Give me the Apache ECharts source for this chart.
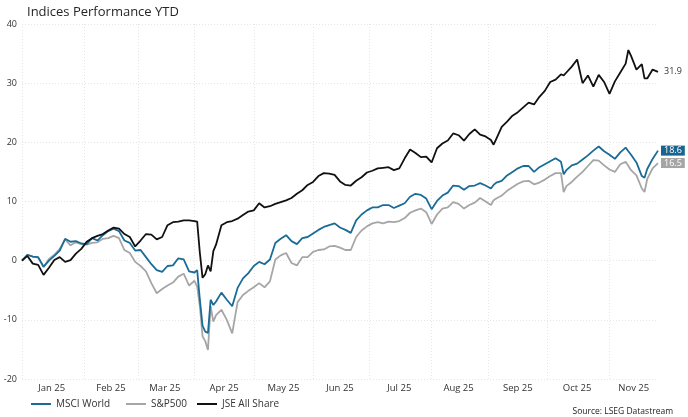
<!DOCTYPE html>
<html>
<head>
<meta charset="utf-8">
<script src="https://cdn.jsdelivr.net/npm/echarts@6/dist/echarts.min.js"></script>
<style>
  html, body { margin: 0; padding: 0; background: #fff; }
  #chart { width: 688px; height: 417px; }
</style>
</head>
<body>
<div id="chart"></div>
<script>
(function () {
  'use strict';

  // trading day number (weekdays counted from 1 Jan 2025) of each reading
  var dayNo = [
    0, 2, 4, 6, 8, 10, 12, 14, 16, 18, 20, 22, 24, 26, 28, 30, 32, 34, 36, 38,
    40, 42, 44, 46, 48, 50, 52, 54, 56, 58, 60, 62, 64, 65, 66, 67, 68, 69, 70, 71,
    72, 74, 76, 78, 80, 82, 84, 86, 88, 90, 92, 94, 96, 98, 100, 102, 104, 106, 108, 110,
    112, 114, 116, 118, 120, 122, 124, 126, 128, 130, 132, 134, 136, 138, 140, 142, 144, 146, 148, 150,
    152, 154, 156, 158, 160, 162, 164, 166, 168, 170, 172, 174, 175, 176, 178, 180, 182, 184, 186, 188,
    190, 192, 194, 196, 198, 200, 201, 202, 204, 206, 208, 210, 212, 214, 216, 218, 220, 222, 224, 225,
    226, 228, 230, 231, 232, 234, 236
  ];

  var msciWorld = [
    0, 1.0, 0.7, 0.6, -1.0, 0.0, 0.8, 1.7, 3.7, 3.2, 3.3, 2.9, 2.8, 3.8, 3.4, 4.3, 5.0, 5.4, 5.0, 3.4,
    3.0, 1.7, 1.8, 0.6, -0.6, -1.6, -1.9, -0.9, -0.8, 0.4, 0.2, -1.8, -2.0, -1.6, -6.6, -11.0, -12.0, -12.2, -6.6, -7.5,
    -6.9, -5.4, -6.6, -7.7, -4.6, -3.0, -2.1, -0.9, -0.2, -0.6, 0.2, 3.0, 3.7, 4.3, 3.3, 2.8, 3.8, 4.0, 4.6, 5.2,
    5.7, 6.0, 6.3, 5.6, 5.2, 4.7, 6.8, 7.8, 8.5, 9.0, 9.0, 9.4, 9.4, 8.9, 9.3, 9.7, 10.8, 11.3, 11.1, 10.5,
    8.7, 10.1, 11.0, 11.5, 12.7, 12.6, 12.0, 12.6, 12.7, 13.1, 12.7, 12.2, 12.8, 13.2, 13.5, 14.4, 15.0, 15.6, 16.0, 16.0,
    15.0, 15.8, 16.3, 16.8, 17.3, 16.7, 14.6, 15.3, 16.1, 16.4, 17.1, 17.8, 18.6, 19.3, 18.5, 17.9, 17.2, 18.3, 19.1, 18.5,
    17.9, 16.6, 14.3, 14.0, 15.5, 17.2, 18.6
  ];

  var sp500 = [
    0, 1.0, 0.7, 0.5, -1.1, 0.3, 1.0, 2.0, 3.6, 2.6, 3.1, 2.8, 2.7, 3.0, 3.1, 3.7, 3.8, 4.2, 3.8, 1.8,
    1.3, -0.2, -0.9, -1.8, -3.8, -5.5, -4.8, -4.2, -3.7, -2.7, -2.2, -4.2, -3.4, -4.4, -7.7, -12.8, -13.6, -15.1, -7.7, -10.3,
    -9.2, -8.3, -10.0, -12.3, -7.0, -5.8, -5.1, -4.5, -3.8, -4.5, -3.5, 0.2, 0.9, 1.3, -0.4, -0.8, 0.6, 0.6, 1.5, 1.8,
    1.9, 2.4, 2.5, 2.2, 1.8, 1.8, 4.0, 5.1, 5.8, 6.3, 6.5, 6.3, 6.6, 6.5, 6.7, 7.2, 8.1, 8.5, 8.8, 8.2,
    6.2, 7.8, 8.8, 9.0, 9.9, 9.6, 8.8, 9.4, 9.8, 10.6, 10.0, 9.4, 10.2, 10.5, 11.0, 11.8, 12.4, 13.0, 13.4, 13.5,
    12.9, 13.2, 13.7, 14.3, 14.8, 14.8, 11.6, 12.6, 13.3, 14.2, 15.0, 16.0, 17.0, 16.9, 16.1, 15.4, 15.0, 16.3, 16.7, 16.0,
    15.3, 14.4, 12.2, 11.6, 13.8, 15.6, 16.5
  ];

  var jseAllShare = [
    0, 0.8, -0.5, -0.7, -2.4, -1.2, 0.1, 0.6, -0.2, 0.1, 1.2, 2.0, 3.2, 3.8, 4.2, 4.5, 5.1, 5.6, 5.4, 4.5,
    4.0, 2.4, 3.4, 4.5, 4.4, 3.6, 4.0, 6.0, 6.5, 6.6, 6.8, 6.8, 6.7, 6.6, 1.3, -2.9, -2.3, -0.8, -1.8, 1.6,
    2.7, 6.0, 6.5, 6.7, 7.1, 7.7, 8.3, 8.5, 9.7, 9.0, 9.2, 9.6, 9.9, 10.2, 10.6, 11.3, 11.9, 12.8, 13.3, 14.3,
    14.8, 14.7, 14.5, 13.4, 12.8, 12.7, 13.5, 14.1, 14.9, 15.2, 15.6, 15.7, 15.8, 15.3, 15.6, 17.3, 18.8, 18.2, 17.5, 17.6,
    16.6, 19.0, 19.8, 20.3, 21.5, 21.2, 20.3, 21.4, 22.2, 21.3, 21.0, 20.4, 19.6, 20.6, 22.6, 23.5, 24.5, 25.1, 25.9, 26.7,
    26.4, 27.7, 28.7, 30.2, 30.6, 31.5, 31.3, 31.8, 32.8, 34.0, 30.0, 31.3, 29.4, 31.4, 30.2, 28.2, 30.3, 31.8, 33.3, 35.6,
    34.6, 32.3, 33.2, 30.8, 30.8, 32.3, 31.9
  ];

  var monthNames = ['Jan', 'Feb', 'Mar', 'Apr', 'May', 'Jun', 'Jul', 'Aug', 'Sep', 'Oct', 'Nov', 'Dec'];
  var yTicks = { min: -20, max: 40, step: 10 };

  // weekday calendar for the category axis
  var days = [], monthOf = [];
  for (var t = Date.UTC(2025, 0, 1); t <= Date.UTC(2025, 10, 27); t += 86400000) {
    var d = new Date(t), wd = d.getUTCDay();
    if (wd === 0 || wd === 6) continue;
    days.push(d.toISOString().slice(0, 10));
    monthOf.push(d.getUTCMonth());
  }
  var monthStart = {}, labelAt = {}, starts = [];
  monthOf.forEach(function (m, i) {
    if (i === 0 || m !== monthOf[i - 1]) { monthStart[i] = true; starts.push(i); }
  });
  starts.forEach(function (s, k) {
    var next = k + 1 < starts.length ? starts[k + 1] : days.length;
    labelAt[Math.floor((s + next) / 2)] = true;
  });

  function pairs(vals) {
    return dayNo.map(function (n, k) { return [n, vals[k]]; });
  }

  var font = 'Open Sans';
  var myChart = echarts.init(document.getElementById('chart'), null, { renderer: 'canvas' });

  var option = {
    animation: false,
    textStyle: { fontFamily: font },
    title: {
      text: 'Indices Performance YTD',
      left: 22, top: 1,
      textStyle: { fontFamily: font, fontSize: 13, fontWeight: 'normal', color: '#262626' }
    },
    legend: [
      { data: ['MSCI World'], left: 26, top: 394 },
      { data: ['S&P500'], left: 121, top: 394 },
      { data: ['JSE All Share'], left: 192, top: 394 }
    ].map(function (l) {
      l.icon = 'rect';
      l.itemWidth = 20;
      l.itemHeight = 2;
      l.textStyle = { fontFamily: font, fontSize: 10, color: '#333' };
      return l;
    }),
    grid: { left: 22, right: 30, top: 24, bottom: 38 },
    xAxis: {
      type: 'category',
      data: days,
      boundaryGap: false,
      axisLine: { show: false },
      axisTick: { show: false },
      axisLabel: {
        interval: function (i) { return !!labelAt[i]; },
        formatter: function (v) { return monthNames[+v.slice(5, 7) - 1] + ' 25'; },
        fontFamily: font, fontSize: 9.5, color: '#333', margin: 4
      },
      splitLine: {
        show: true,
        interval: function (i) { return !!monthStart[i]; },
        lineStyle: { color: '#e6e6e6', type: [1, 2], width: 1 }
      }
    },
    yAxis: {
      type: 'value',
      min: yTicks.min, max: yTicks.max, interval: yTicks.step,
      axisLine: { show: false },
      axisTick: { show: false },
      axisLabel: { fontFamily: font, fontSize: 9, color: '#333', margin: 5 },
      splitLine: { lineStyle: { color: '#e6e6e6', type: [1, 2], width: 1 } }
    },
    series: [
      {
        name: 'S&P500', type: 'line', data: pairs(sp500),
        showSymbol: false, color: '#a6a6a6',
        lineStyle: { width: 1.8 },
        endLabel: {
          show: true, distance: 3,
          formatter: function (p) { return p.value[1].toFixed(1); },
          backgroundColor: '#a5a5a5', color: '#fff', padding: [1, 3, 0, 3],
          fontFamily: font, fontSize: 9
        }
      },
      {
        name: 'MSCI World', type: 'line', data: pairs(msciWorld),
        showSymbol: false, color: '#1a6b96',
        lineStyle: { width: 1.8 },
        endLabel: {
          show: true, distance: 3,
          formatter: function (p) { return p.value[1].toFixed(1); },
          backgroundColor: '#1a6590', color: '#fff', padding: [1, 3, 0, 3],
          fontFamily: font, fontSize: 9
        }
      },
      {
        name: 'JSE All Share', type: 'line', data: pairs(jseAllShare),
        showSymbol: false, color: '#111111',
        lineStyle: { width: 1.8 },
        endLabel: {
          show: true, distance: 6,
          formatter: function (p) { return p.value[1].toFixed(1); },
          color: '#333', fontFamily: font, fontSize: 9
        }
      }
    ],
    graphic: [{
      type: 'text', right: 15, top: 407,
      style: { text: 'Source: LSEG Datastream', fontFamily: font, fontSize: 8.5, fill: '#222' }
    }]
  };

  myChart.setOption(option);
}());
</script>
</body>
</html>
